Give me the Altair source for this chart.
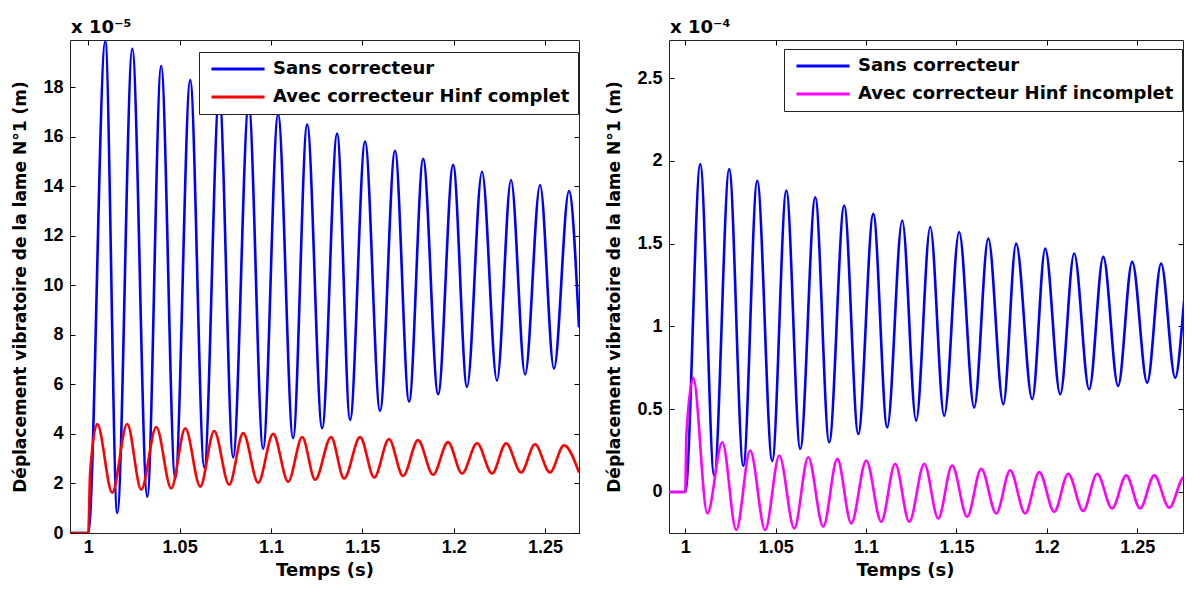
import altair as alt
import pandas as pd

# ---------------- data ----------------
# Left panel (x 1e-5 m)
L_SANS_T = [0.990, 1.000, 1.0093, 1.0159, 1.0241, 1.0323, 1.0399, 1.0476, 1.0558, 1.0635,
            1.0717, 1.0793, 1.0878, 1.0957, 1.1039, 1.1121, 1.1198, 1.1280, 1.1362, 1.1433,
            1.1515, 1.1597, 1.1679, 1.1756, 1.1833, 1.1915, 1.1997, 1.2073, 1.2155, 1.2237,
            1.2314, 1.2391, 1.2473, 1.2549, 1.2631, 1.2686]
L_SANS_V = [0, 0, 19.85, 0.81, 19.54, 1.47, 18.85, 2.2, 18.28, 2.65,
            17.75, 3.05, 17.3, 3.4, 16.9, 3.83, 16.5, 4.23, 16.12, 4.56,
            15.8, 4.93, 15.43, 5.3, 15.1, 5.6, 14.86, 5.9, 14.58, 6.15,
            14.25, 6.4, 14.05, 6.64, 13.8, 8.3]

L_AVEC_T = [0.990, 1.000, 1.0010, 1.0049, 1.0131, 1.0213, 1.0290, 1.0372, 1.0454, 1.0531,
            1.0613, 1.0689, 1.0771, 1.0848, 1.0930, 1.1012, 1.1094, 1.1171, 1.1242, 1.1329,
            1.1400, 1.1488, 1.1565, 1.1646, 1.1723, 1.1805, 1.1887, 1.1969, 1.2046, 1.2128,
            1.2210, 1.2287, 1.2369, 1.2445, 1.2527, 1.2604, 1.2686]
L_AVEC_V = [0, 0, 2.4, 4.4, 1.63, 4.4, 1.75, 4.28, 1.8, 4.23,
            1.87, 4.12, 1.95, 4.03, 2.03, 4.0, 2.07, 3.87, 2.15, 3.87,
            2.2, 3.87, 2.24, 3.79, 2.3, 3.75, 2.35, 3.67, 2.4, 3.62,
            2.4, 3.62, 2.44, 3.58, 2.44, 3.54, 2.44]

# Right panel (x 1e-4 m)
R_SANS_T = [0.991, 1.000, 1.0083, 1.0160, 1.0243, 1.0321, 1.0398, 1.0481, 1.0559, 1.0636,
            1.0719, 1.0796, 1.0879, 1.0957, 1.1040, 1.1117, 1.1200, 1.1277, 1.1355, 1.1432,
            1.1515, 1.1598, 1.1676, 1.1759, 1.1830, 1.1919, 1.1991, 1.2074, 1.2151, 1.2234,
            1.2312, 1.2394, 1.2472, 1.2555, 1.2632, 1.2710, 1.2787, 1.2826]
R_SANS_V = [0, 0, 1.98, 0.097, 1.95, 0.157, 1.88, 0.187, 1.82, 0.26,
            1.78, 0.30, 1.73, 0.35, 1.68, 0.39, 1.64, 0.43, 1.60, 0.46,
            1.57, 0.51, 1.53, 0.53, 1.50, 0.56, 1.47, 0.59, 1.44, 0.62,
            1.42, 0.64, 1.39, 0.66, 1.38, 0.69, 1.35, 1.03]

R_INC_T = [0.991, 1.000, 1.0006, 1.0044, 1.0122, 1.0205, 1.0282, 1.0359, 1.0442, 1.0520,
           1.0603, 1.0680, 1.0763, 1.0841, 1.0918, 1.1001, 1.1084, 1.1161, 1.1239, 1.1322,
           1.1399, 1.1476, 1.1559, 1.1637, 1.1720, 1.1797, 1.1880, 1.1958, 1.2041, 1.2118,
           1.2201, 1.2278, 1.2361, 1.2439, 1.2516, 1.2594, 1.2677, 1.2759, 1.2826]
R_INC_V = [0, 0, 0.34, 0.69, -0.13, 0.30, -0.23, 0.25, -0.23, 0.22,
           -0.22, 0.21, -0.21, 0.20, -0.19, 0.19, -0.18, 0.17, -0.18, 0.17,
           -0.16, 0.16, -0.15, 0.14, -0.13, 0.13, -0.13, 0.12, -0.12, 0.11,
           -0.115, 0.11, -0.10, 0.10, -0.10, 0.10, -0.095, 0.09, -0.09]

X_TICKS = [1.0, 1.05, 1.1, 1.15, 1.2, 1.25]
L_Y_TICKS = [0, 2, 4, 6, 8, 10, 12, 14, 16, 18]
R_Y_TICKS = [0, 0.5, 1, 1.5, 2, 2.5]

L_NAMES = ["Sans correcteur", "Avec correcteur Hinf complet"]
R_NAMES = ["Sans correcteur", "Avec correcteur Hinf incomplet"]
L_EXP = "x 10⁻⁵"
R_EXP = "x 10⁻⁴"

Y_TITLE = "Déplacement vibratoire de la lame N°1 (m)"
X_TITLE = "Temps (s)"

NUM_FONT = "Liberation Sans"
TXT_FONT = "DejaVu Sans"
INWARD = {"expr": "-5"}


def frame_df(t1, v1, n1, t2, v2, n2):
    a = pd.DataFrame({"t": t1, "v": v1, "series": n1})
    b = pd.DataFrame({"t": t2, "v": v2, "series": n2})
    return pd.concat([a, b], ignore_index=True)


def panel(df, names, colors, xdom, ydom, yticks, exp_txt, w, h, lx, ly, xtitle_x=None):
    xs = alt.Scale(domain=xdom, nice=False, zero=False)
    ys = alt.Scale(domain=ydom, nice=False, zero=False)
    common = dict(grid=False, tickColor="black", domainColor="#222", tickSize=INWARD,
                  labelFont=NUM_FONT, labelFontSize=18, labelFontWeight="bold",
                  labelColor="black", labelOverlap=False, titleFont=TXT_FONT,
                  titleFontWeight="bold", titleColor="black")
    xax_kw = dict(common, orient="bottom", values=X_TICKS, format="~g", title=X_TITLE,
                  titleFontSize=18, labelPadding=10, titlePadding=5)
    if xtitle_x is not None:
        xax_kw["titleX"] = xtitle_x
    xax = alt.Axis(**xax_kw)
    yax = alt.Axis(**dict(common, orient="left", values=yticks, format="~g", title=Y_TITLE,
                          titleFontSize=17, labelPadding=12, titlePadding=13))
    topax = alt.Axis(**dict(common, orient="top", values=X_TICKS, labels=False, title=None,
                            minExtent=0, maxExtent=0))
    rightax = alt.Axis(**dict(common, orient="right", values=yticks, labels=False, title=None,
                              minExtent=0, maxExtent=0))

    color = alt.Color(
        "series:N",
        scale=alt.Scale(domain=names, range=colors),
        title=None,
        legend=alt.Legend(
            orient="none", legendX=lx, legendY=ly,
            symbolType="M-4,0H4", symbolSize=176, symbolStrokeWidth=3,
            symbolOffset=22, labelOffset=26,
            labelFont=TXT_FONT, labelFontSize=18, labelFontWeight="bold",
            labelColor="black", labelLimit=500,
            padding=8, rowPadding=10,
            strokeColor="#222", fillColor="white", cornerRadius=0,
        ),
    )
    base = alt.Chart(df)
    l1 = base.transform_filter(alt.datum.series == names[0]).mark_line(
        strokeWidth=2.6, interpolate="monotone", clip=True).encode(
        x=alt.X("t:Q", scale=xs, axis=xax),
        y=alt.Y("v:Q", scale=ys, axis=yax),
        color=color,
    )
    l2 = base.transform_filter(alt.datum.series == names[1]).mark_line(
        strokeWidth=2.6, interpolate="monotone", clip=True).encode(
        x=alt.X("t:Q", scale=xs, axis=None),
        y=alt.Y("v:Q", scale=ys, axis=None),
        color=color,
    )
    fr = base.mark_line(strokeOpacity=0, clip=True).encode(
        x=alt.X("t:Q", scale=xs, axis=topax),
        y=alt.Y("v:Q", scale=ys, axis=rightax),
    )
    exp = alt.Chart(pd.DataFrame({"txt": [exp_txt]})).mark_text(
        align="left", baseline="alphabetic", font=TXT_FONT, fontSize=18,
        fontWeight="bold", color="black").encode(
        text="txt:N", x=alt.value(1), y=alt.value(-7))
    return alt.layer(l1, l2, fr, exp).resolve_axis(x="independent", y="independent").properties(
        width=w, height=h)


left_df = frame_df(L_SANS_T, L_SANS_V, L_NAMES[0], L_AVEC_T, L_AVEC_V, L_NAMES[1])
right_df = frame_df(R_SANS_T, R_SANS_V, R_NAMES[0], R_INC_T, R_INC_V, R_NAMES[1])

left = panel(left_df, L_NAMES, ["#0000ff", "#ff0000"], [0.990, 1.2686], [0, 19.9],
             L_Y_TICKS, L_EXP, 509, 493, 129, 12)
right = panel(right_df, R_NAMES, ["#0000ff", "#ff00ff"], [0.991, 1.2753], [-0.248, 2.73],
              R_Y_TICKS, R_EXP, 514, 493, 115, 9, xtitle_x=236)

chart = alt.hconcat(left, right, spacing=90, bounds="flush").resolve_scale(
    color="independent").properties(
    padding={"left": 3, "top": 10, "right": 0, "bottom": 0}
).configure_view(stroke="#222", strokeWidth=1).configure(background="white")

chart.save("out.html", embed_options={"renderer": "svg", "actions": False})
